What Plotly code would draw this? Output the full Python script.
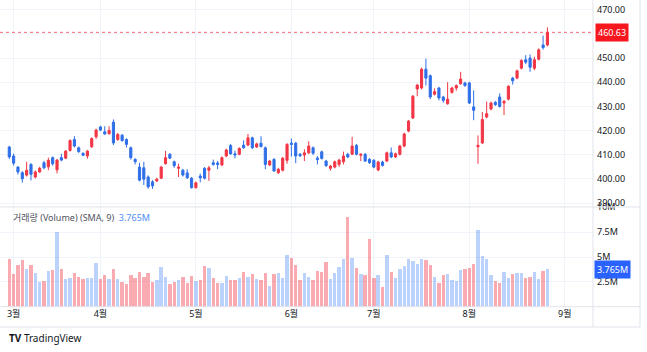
import pandas as pd
import plotly.graph_objects as go

# ---------------- data ----------------
opens = [413.2, 409.5, 404.9, 402.6, 401.6, 406.0, 400.8, 402.9, 406.7, 405.0,
         408.8, 403.8, 408.8, 408.6, 411.8, 416.3, 412.9, 410.6, 409.5, 413.3,
         417.4, 421.5, 419.5, 418.7, 423.5, 416.3, 418.1, 416.3, 412.9, 408.1,
         404.9, 404.6, 400.8, 398.8, 399.2, 400.3, 406.3, 410.2, 407.1, 404.4,
         403.6, 402.5, 400.3, 396.4, 401.2, 404.4, 403.6, 406.7, 406.6, 405.8,
         409.5, 413.8, 410.4, 410.2, 414.0, 414.0, 417.0, 413.2, 414.8, 412.9,
         405.8, 408.1, 402.6, 403.6, 407.7, 414.8, 414.8, 410.2, 409.9, 410.8,
         412.9, 408.6, 411.2, 407.4, 404.4, 404.9, 406.0, 407.1, 410.2, 410.2,
         413.9, 409.8, 410.2, 408.1, 407.7, 403.7, 407.0, 407.4, 410.8, 409.1,
         410.2, 413.6, 419.8, 425.2, 437.2, 437.6, 445.4, 442.7, 435.0, 437.6,
         433.9, 431.1, 435.8, 437.6, 439.4, 439.7, 439.7, 429.8, 413.3, 414.9,
         425.6, 428.9, 431.7, 433.9, 431.4, 433.0, 441.7, 441.7, 445.8, 449.3,
         450.0, 445.8, 449.5, 455.4, 455.4]
highs = [413.7, 410.5, 405.3, 403.2, 407.1, 406.5, 403.5, 405.0, 407.5, 408.8,
         409.3, 408.3, 410.4, 412.0, 416.4, 417.7, 413.4, 411.0, 412.0, 417.2,
         420.8, 422.0, 421.8, 421.8, 424.6, 419.0, 418.6, 416.8, 413.4, 408.6,
         406.7, 407.1, 401.5, 399.5, 400.5, 405.4, 411.6, 410.7, 407.6, 406.3,
         404.2, 404.0, 400.8, 398.9, 402.2, 404.9, 405.4, 408.0, 407.5, 409.3,
         412.5, 414.5, 411.7, 413.1, 416.0, 418.6, 417.5, 415.0, 417.7, 413.4,
         407.9, 408.6, 404.6, 409.1, 414.8, 416.7, 415.3, 410.7, 412.3, 415.6,
         413.4, 409.5, 411.7, 407.9, 405.8, 407.6, 408.3, 411.3, 410.8, 417.4,
         414.4, 410.6, 410.7, 408.6, 408.2, 407.5, 407.5, 411.3, 413.0, 410.9,
         414.1, 419.1, 424.4, 434.7, 439.3, 446.0, 449.7, 443.2, 437.5, 438.1,
         434.4, 440.0, 438.1, 439.1, 444.3, 440.2, 440.2, 436.6, 418.0, 427.7,
         432.0, 432.0, 432.2, 435.4, 432.6, 438.8, 442.2, 445.2, 449.5, 451.2,
         451.5, 450.5, 454.0, 459.3, 462.7]
lows = [408.2, 405.5, 401.8, 398.5, 401.0, 399.4, 400.2, 402.5, 404.0, 403.6,
        405.5, 402.3, 407.3, 408.2, 411.3, 413.0, 410.8, 409.4, 408.4, 412.8,
        416.5, 419.8, 418.3, 418.3, 414.0, 415.8, 415.4, 413.0, 408.0, 406.0,
        399.0, 397.5, 396.0, 395.9, 398.7, 400.0, 406.0, 408.2, 404.6, 400.8,
        401.0, 400.0, 396.0, 396.0, 398.6, 399.8, 399.2, 405.5, 404.0, 405.3,
        409.0, 410.0, 408.5, 409.8, 412.5, 413.6, 412.4, 412.8, 413.0, 404.0,
        405.3, 403.0, 402.0, 403.1, 406.3, 409.2, 406.5, 409.0, 407.4, 410.3,
        410.0, 406.0, 408.0, 405.0, 403.5, 404.4, 405.0, 406.0, 408.6, 410.0,
        409.7, 407.4, 407.0, 406.2, 404.4, 403.2, 405.1, 407.0, 408.6, 408.7,
        409.7, 413.1, 419.3, 424.8, 434.2, 437.0, 438.6, 433.0, 434.5, 432.5,
        431.5, 430.7, 435.3, 436.5, 439.0, 438.1, 431.0, 424.3, 406.3, 414.4,
        425.1, 428.4, 430.2, 429.5, 426.4, 432.5, 439.0, 441.2, 445.3, 447.5,
        444.3, 445.0, 449.0, 453.5, 454.8]
closes = [409.1, 406.5, 402.9, 400.1, 403.6, 401.9, 402.9, 404.4, 404.6, 407.7,
          406.3, 407.8, 407.8, 411.5, 415.9, 413.6, 411.3, 409.8, 411.5, 416.7,
          420.2, 420.2, 418.6, 420.1, 414.9, 418.4, 415.9, 414.3, 408.8, 407.1,
          399.5, 399.9, 396.7, 397.1, 399.9, 404.9, 408.8, 408.6, 405.5, 404.9,
          401.6, 400.5, 396.4, 398.4, 400.5, 400.3, 404.6, 406.0, 406.0, 408.8,
          412.0, 410.4, 409.9, 412.6, 412.9, 417.0, 412.9, 414.5, 413.4, 406.0,
          407.4, 403.3, 404.0, 408.6, 414.3, 414.3, 409.5, 409.6, 410.8, 413.6,
          410.6, 408.0, 408.5, 405.5, 405.3, 407.1, 407.8, 409.5, 409.1, 413.6,
          410.2, 410.2, 407.4, 406.7, 404.9, 407.0, 405.6, 410.8, 409.1, 410.4,
          413.6, 418.6, 423.9, 434.2, 438.8, 445.4, 441.7, 433.9, 436.1, 433.5,
          432.5, 433.0, 437.6, 438.6, 441.3, 438.6, 431.4, 428.4, 413.9, 424.6,
          427.0, 431.4, 430.7, 430.0, 432.1, 438.3, 440.6, 444.7, 449.0, 448.3,
          446.2, 449.3, 453.4, 454.3, 460.63]
volumes_m = [4.83, 3.33, 4.2, 4.7, 3.83, 4.2, 3.43, 2.47, 2.6, 3.6,
             3.7, 7.53, 3.77, 2.77, 2.93, 3.43, 3.0, 2.83, 2.93, 2.93,
             4.37, 2.77, 3.2, 2.77, 3.77, 2.77, 2.5, 2.33, 3.17, 2.93,
             3.5, 3.03, 3.4, 2.5, 2.7, 4.03, 3.0, 2.3, 2.5, 2.7,
             3.03, 2.43, 3.13, 2.6, 2.7, 4.13, 3.87, 2.93, 2.43, 2.43,
             3.1, 2.7, 2.7, 2.87, 3.53, 3.0, 3.33, 2.77, 2.7, 3.37,
             2.1, 3.33, 3.43, 2.93, 5.17, 4.87, 4.2,
             2.67, 3.43, 3.0, 2.7, 3.6, 3.53, 4.53, 2.77, 3.43, 4.0,
             4.77, 9.0, 4.93, 3.87, 3.27, 3.2, 6.77, 2.93, 3.2, 2.0,
             5.17, 3.53, 2.93, 3.77, 4.07, 4.77, 4.6, 4.33, 4.77, 4.67,
             4.2, 3.0, 2.43, 3.17, 3.33, 2.73, 2.6, 3.7, 3.77, 3.9,
             4.27, 7.67, 5.1, 4.77, 3.17, 2.6, 2.43, 3.5, 2.87, 3.3,
             3.4, 3.4, 2.9, 3.03, 3.5, 2.8, 3.6, 3.765]
holidays = ["2024-03-29", "2024-05-27", "2024-06-19", "2024-07-04", "2024-09-02"]
price_ticks = [390, 400, 410, 420, 430, 440, 450, 460, 470]
vol_ticks = [2.5, 5, 7.5, 10]
vol_tick_text = ["2.5M", "5M", "7.5M", "10M"]
month_names = [3, 4, 5, 6, 7, 8, 9]

# ---------------- derived ----------------
days = pd.bdate_range("2024-02-29", "2024-09-10")
days = days[~days.isin(pd.to_datetime(holidays))]
n = len(closes)
xs = list(range(n))
month_idx = [int(next(i for i, d in enumerate(days) if d.month == m)) for m in month_names]
month_txt = [f"{m}월" for m in month_names]

RED = "#f23645"
BLUE = "#2f6fe8"
vol_colors = ["rgba(49,121,245,0.33)" if c >= o else "rgba(242,54,69,0.42)"
              for o, c in zip(opens, closes)]

W, H = 647, 352
def py(pix):
    return 1 - pix / H
def px(pix):
    return pix / W

AX_X = 593
P_TOP, P_BOT = 0, 207
V_BOT = 306.7
T_BOT = 327

fig = go.Figure()
fig.add_trace(go.Candlestick(
    x=xs, open=opens, high=highs, low=lows, close=closes,
    increasing=dict(line=dict(color=RED, width=1), fillcolor=RED),
    decreasing=dict(line=dict(color=BLUE, width=1), fillcolor=BLUE),
    whiskerwidth=0, xaxis="x", yaxis="y", showlegend=False, hoverinfo="skip"))
fig.add_trace(go.Bar(
    x=xs, y=volumes_m, marker=dict(color=vol_colors, line=dict(width=0)),
    width=0.78, xaxis="x2", yaxis="y2", showlegend=False, hoverinfo="skip"))

FONT = "Noto Sans, Noto Sans CJK KR, sans-serif"
grid = "#f0f3fa"
xr = [-2.14, 134.5]

fig.update_layout(
    width=W, height=H, margin=dict(l=0, r=0, t=0, b=0, autoexpand=False),
    paper_bgcolor="white", plot_bgcolor="white",
    font=dict(family=FONT, size=9, color="#131722"),
    bargap=0,
    xaxis=dict(domain=[0, px(AX_X)], anchor="y", range=xr, matches="x2",
               tickvals=month_idx, showticklabels=False, showgrid=True,
               gridcolor=grid, zeroline=False, showline=False, ticks="",
               automargin=False, rangeslider=dict(visible=False)),
    yaxis=dict(domain=[py(P_BOT), py(P_TOP)], anchor="x", side="right",
               range=[388.4, 474.0], tickvals=price_ticks, tickformat=".2f",
               showgrid=True, gridcolor=grid, zeroline=False, ticks="",
               automargin=False, ticklabelstandoff=3,
               tickfont=dict(size=9, color="#131722")),
    xaxis2=dict(domain=[0, px(AX_X)], anchor="y2", range=xr,
                tickvals=month_idx, ticktext=month_txt, showgrid=True,
                gridcolor=grid, zeroline=False, showline=False, ticks="",
                automargin=False, tickfont=dict(size=9, color="#131722")),
    yaxis2=dict(domain=[py(V_BOT), py(P_BOT)], anchor="x2", side="right",
                range=[0, 10.03], tickvals=vol_ticks, ticktext=vol_tick_text,
                showgrid=True, gridcolor=grid, zeroline=False, ticks="",
                automargin=False, ticklabelstandoff=3,
                tickfont=dict(size=9, color="#131722")),
)

line_c = "#e0e3eb"
shapes = [
    dict(type="line", xref="paper", yref="paper", x0=0, x1=px(640), y0=py(P_BOT), y1=py(P_BOT),
         line=dict(color=line_c, width=1)),
    dict(type="line", xref="paper", yref="paper", x0=0, x1=px(640), y0=py(V_BOT), y1=py(V_BOT),
         line=dict(color=line_c, width=1)),
    dict(type="line", xref="paper", yref="paper", x0=0, x1=px(640), y0=py(T_BOT), y1=py(T_BOT),
         line=dict(color=line_c, width=1)),
    dict(type="line", xref="paper", yref="paper", x0=px(AX_X), x1=px(AX_X), y0=py(T_BOT), y1=1,
         line=dict(color=line_c, width=1)),
    dict(type="line", xref="paper", yref="paper", x0=px(640), x1=px(640), y0=py(T_BOT), y1=1,
         line=dict(color=line_c, width=1)),
    dict(type="line", xref="paper", yref="y", x0=0, x1=px(AX_X), y0=closes[-1], y1=closes[-1],
         line=dict(color="rgba(242,54,69,0.75)", width=1, dash="dot")),
]
fig.update_layout(shapes=shapes)

annotations = [
    dict(xref="paper", yref="y", x=px(AX_X + 2), y=closes[-1], xanchor="left", yanchor="middle",
         text=f"{closes[-1]:.2f}", showarrow=False, bgcolor="#f7181f",
         font=dict(color="white", size=9, family=FONT), borderpad=2),
    dict(xref="paper", yref="y2", x=px(AX_X + 1), y=volumes_m[-1], xanchor="left", yanchor="middle",
         text=f"{volumes_m[-1]:.3f}M", showarrow=False, bgcolor="#2962ff",
         font=dict(color="white", size=9, family=FONT), borderpad=2),
    dict(xref="paper", yref="paper", x=px(11), y=py(217), xanchor="left", yanchor="middle",
         text=f"<span style='color:#50535e'>거래량 (Volume) (SMA, 9)</span>  "
              f"<span style='color:#4f8df5'>{volumes_m[-1]:.3f}M</span>",
         showarrow=False, font=dict(size=9, family=FONT)),
    dict(xref="paper", yref="paper", x=px(7), y=py(338), xanchor="left", yanchor="middle",
         text="<b>TV</b> TradingView", showarrow=False,
         font=dict(size=10, color="#131722", family=FONT)),
]
fig.update_layout(annotations=annotations)

fig.write_html("out.html")
